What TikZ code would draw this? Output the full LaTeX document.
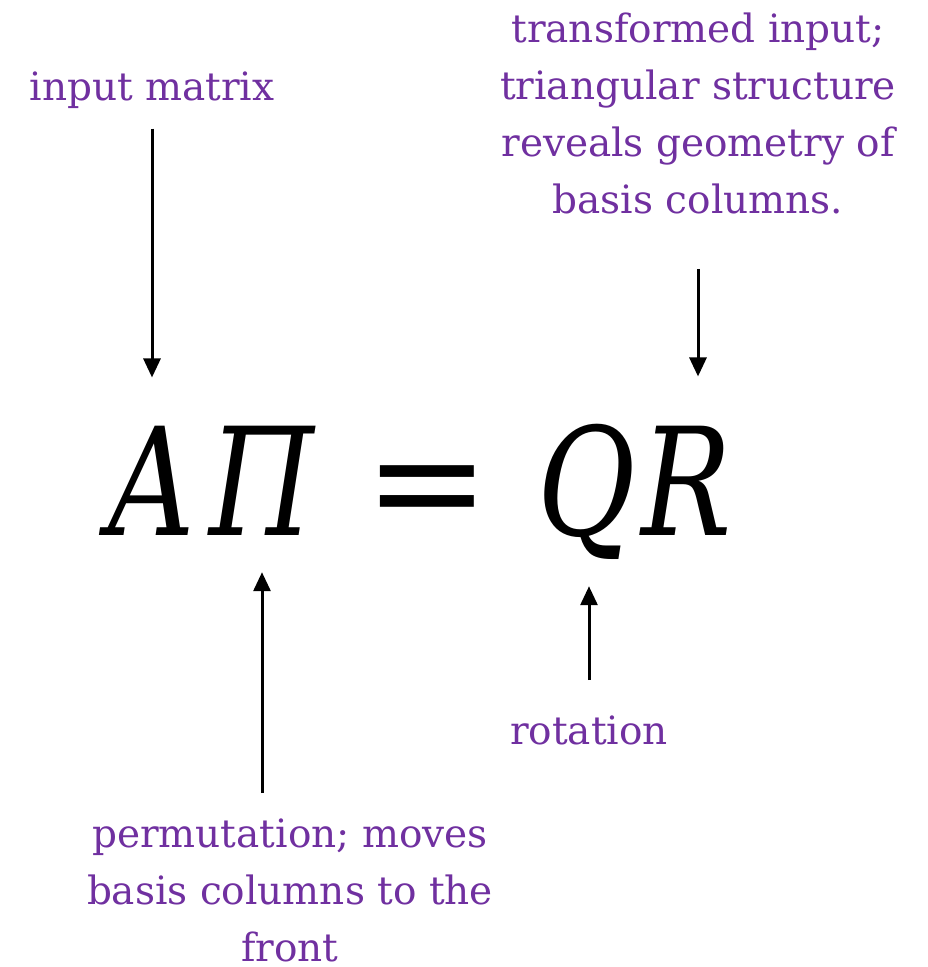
\documentclass[tikz,border=0pt]{standalone}
\usepackage{fontspec}
\setmainfont{DejaVu Serif}
\usetikzlibrary{arrows.meta,positioning}
\definecolor{notepurple}{HTML}{7030A0}
\newcommand{\eqglyph}[1]{\scalebox{0.8}[1]{#1}}
\tikzset{
  >={Triangle[length=19pt,width=17pt]},
  note/.style={text=notepurple,font=\fontsize{39}{57}\selectfont,align=center,inner sep=0pt},
  sym/.style={font=\fontsize{150}{150}\selectfont\itshape,inner sep=0pt,anchor=base},
  pointer/.style={->,line width=3pt,color=black},
}

\begin{document}
\begin{tikzpicture}[x=1pt,y=-1pt]
  \useasboundingbox (0,0) rectangle (928,967);
  % the equation
  \node[sym] (eqA) at (152,535) {\eqglyph{A}};
  \node[sym] (eqPi) at (262,535) {\eqglyph{Π}};
  \node[sym,font=\fontsize{150}{150}\selectfont] (eqEq) at (427,533) {=};
  \node[sym] (eqQ) at (587,535) {\eqglyph{Q}};
  \node[sym] (eqR) at (687,535) {\eqglyph{R}};
  % labels
  \node[note] (inmat) at (152,90) {input matrix};
  \node[note] (trans) at (698,113) {transformed input;\\triangular structure\\reveals geometry of\\basis columns.};
  \node[note] (rot) at (589,730) {rotation};
  \node[note] (perm) at (290,890) {permutation; moves\\basis columns to the\\front};
  % pointers
  \draw[pointer,shorten <=20pt,shorten >=48pt] (inmat.south) -- (inmat.south |- eqA.north);
  \draw[pointer,shorten <=55pt,shorten >=49pt] (trans.south) -- (trans.south |- eqR.north);
  \draw[pointer,shorten <=25pt,shorten >=37pt] (eqPi.south |- perm.north) -- (eqPi.south);
  \draw[pointer,shorten <=35pt,shorten >=27pt] (rot.north) -- (rot.north |- eqQ.south);
\end{tikzpicture}
\end{document}
